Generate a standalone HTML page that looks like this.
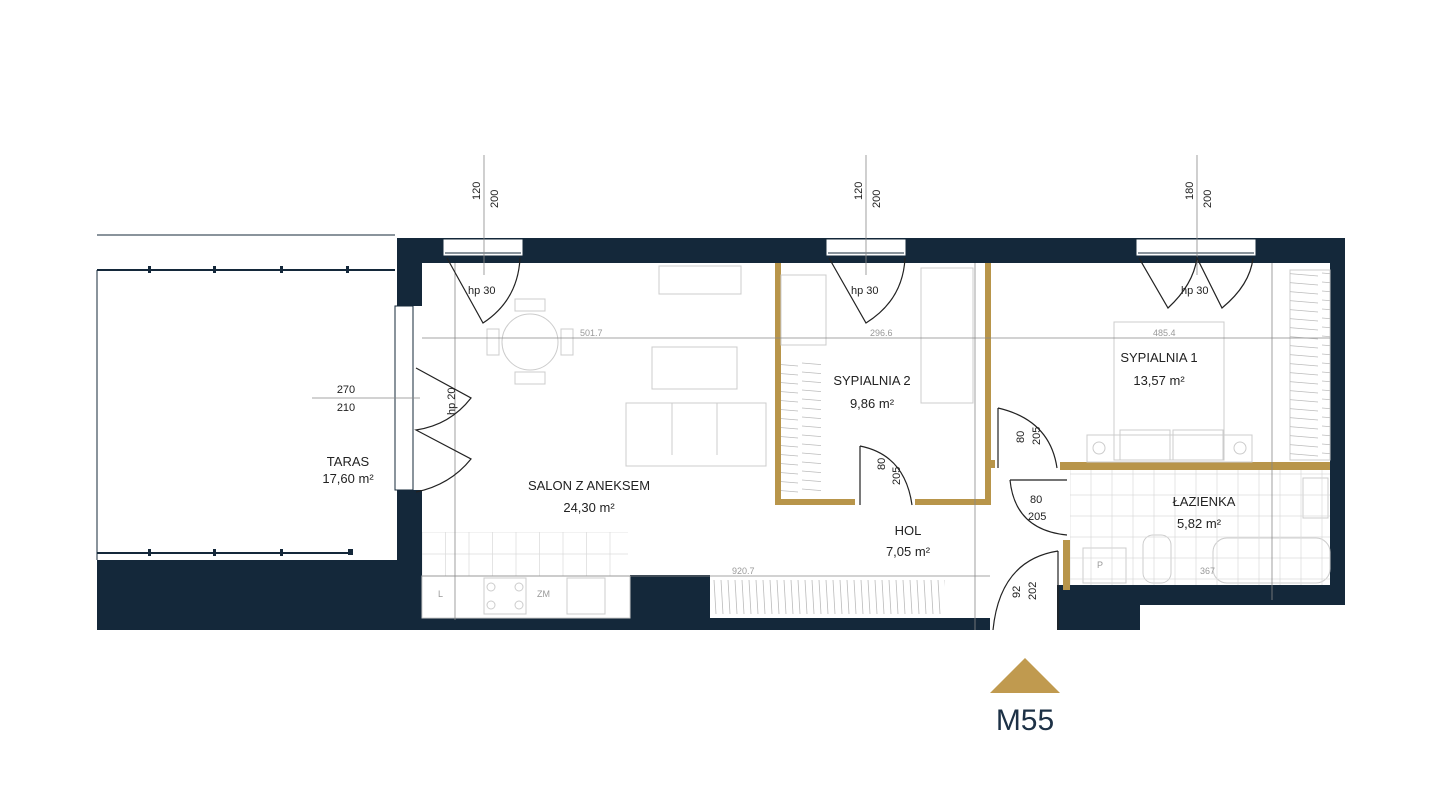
<!DOCTYPE html>
<html><head><meta charset="utf-8"><style>
html,body{margin:0;padding:0;background:#fff;}
svg{display:block;font-family:"Liberation Sans",sans-serif;}
</style></head><body>
<svg width="1441" height="799" viewBox="0 0 1441 799" xmlns="http://www.w3.org/2000/svg">
<defs>
<pattern id="tile" x="422" y="532" width="23.5" height="22" patternUnits="userSpaceOnUse">
<rect width="23.5" height="22" fill="none" stroke="#ddd" stroke-width="0.8"/></pattern>
<pattern id="tile2" x="1070" y="474" width="21" height="21" patternUnits="userSpaceOnUse">
<rect width="21" height="21" fill="none" stroke="#ddd" stroke-width="0.8"/></pattern>
<pattern id="ward" x="712" y="578" width="7" height="38" patternUnits="userSpaceOnUse">
<line x1="2" y1="2" x2="4" y2="36" stroke="#bbb" stroke-width="0.8"/></pattern>
<pattern id="wardh" x="0" y="0" width="40" height="9" patternUnits="userSpaceOnUse">
<line x1="2" y1="3" x2="38" y2="6" stroke="#bbb" stroke-width="0.8"/></pattern>
</defs>
<g fill="#14283a">
<rect x="397" y="238" width="948" height="25"/>
<rect x="397" y="238" width="25" height="68"/>
<rect x="397" y="490" width="25" height="140"/>
<rect x="97" y="560" width="300" height="70"/>
<rect x="422" y="618" width="568" height="12"/>
<rect x="630" y="575" width="80" height="45"/>
<rect x="1057" y="585" width="288" height="20"/>
<rect x="1057" y="585" width="83" height="45"/>
<rect x="1330" y="238" width="15" height="365"/>
</g>
<g fill="#fff" stroke="#14283a" stroke-width="1">
<rect x="443" y="239" width="80" height="17"/>
<rect x="826" y="239" width="80" height="17"/>
<rect x="1136" y="239" width="120" height="17"/>
<rect x="395" y="306" width="18" height="184"/>
</g>
<g stroke="#14283a" stroke-width="1">
<line x1="445" y1="253" x2="521" y2="253"/><line x1="828" y1="253" x2="904" y2="253"/><line x1="1138" y1="253" x2="1254" y2="253"/>
</g>
<g stroke="#14283a" fill="none">
<line x1="97" y1="235" x2="395" y2="235"/>
<line x1="97" y1="270" x2="395" y2="270" stroke-width="2"/>
<line x1="97" y1="553" x2="350" y2="553" stroke-width="2"/>
<line x1="97" y1="270" x2="97" y2="560"/>
</g>
<g fill="#14283a"><rect x="148" y="266" width="3" height="7"/><rect x="213" y="266" width="3" height="7"/><rect x="280" y="266" width="3" height="7"/><rect x="346" y="266" width="3" height="7"/>
<rect x="148" y="549" width="3" height="7"/><rect x="213" y="549" width="3" height="7"/><rect x="280" y="549" width="3" height="7"/><rect x="348" y="549" width="5" height="6"/></g>
<g fill="#b8954a">
<rect x="775" y="263" width="6" height="242"/>
<rect x="775" y="499" width="80" height="6"/>
<rect x="915" y="499" width="75" height="6"/>
<rect x="985" y="263" width="6" height="242"/>
<rect x="990" y="460" width="5" height="8"/>
<rect x="1060" y="462" width="270" height="8"/>
<rect x="1063" y="540" width="7" height="50"/>
</g>
<rect x="422" y="532" width="206" height="44" fill="url(#tile)"/>
<g stroke="#ccc" fill="none" stroke-width="1">
<rect x="422" y="576" width="208" height="42"/>
<rect x="484" y="578" width="42" height="36"/>
<rect x="567" y="578" width="38" height="36"/>
<circle cx="491" cy="587" r="4"/><circle cx="519" cy="587" r="4"/><circle cx="491" cy="605" r="4"/><circle cx="519" cy="605" r="4"/>
<rect x="659" y="266" width="82" height="28"/>
<circle cx="530" cy="342" r="28"/>
<rect x="515" y="299" width="30" height="12"/><rect x="515" y="372" width="30" height="12"/>
<rect x="487" y="329" width="12" height="26"/><rect x="561" y="329" width="12" height="26"/>
<rect x="652" y="347" width="85" height="42"/>
<rect x="626" y="403" width="140" height="63"/>
<line x1="672" y1="403" x2="672" y2="455"/><line x1="717" y1="403" x2="717" y2="455"/>
<rect x="781" y="275" width="45" height="70"/>
<rect x="921" y="268" width="52" height="135"/>
<rect x="1114" y="322" width="110" height="138"/>
<rect x="1087" y="435" width="165" height="27"/>
<rect x="1120" y="430" width="50" height="30"/><rect x="1173" y="430" width="50" height="30"/>
<circle cx="1099" cy="448" r="6"/><circle cx="1240" cy="448" r="6"/>
<rect x="1290" y="270" width="40" height="190"/>
<rect x="1143" y="535" width="28" height="48" rx="10"/>
<rect x="1083" y="548" width="43" height="35"/>
<rect x="1213" y="538" width="117" height="45" rx="14"/>
<rect x="1303" y="478" width="25" height="40"/>
</g>
<rect x="781" y="360" width="40" height="135" fill="url(#wardh)"/>
<rect x="712" y="578" width="233" height="38" fill="url(#ward)"/>
<rect x="1290" y="270" width="40" height="190" fill="url(#wardh)"/>
<rect x="1070" y="470" width="260" height="115" fill="url(#tile2)"/>
<g stroke="#888" stroke-width="0.8">
<line x1="422" y1="338" x2="1330" y2="338"/>
<line x1="422" y1="576" x2="990" y2="576"/>
<line x1="455" y1="263" x2="455" y2="620"/>
<line x1="975" y1="263" x2="975" y2="630"/>
<line x1="1272" y1="263" x2="1272" y2="600"/>
<line x1="484" y1="155" x2="484" y2="275"/>
<line x1="866" y1="155" x2="866" y2="275"/>
<line x1="1197" y1="155" x2="1197" y2="275"/>
<line x1="312" y1="398" x2="420" y2="398"/>
</g>
<g stroke="#222" fill="none" stroke-width="1.2">
<path d="M447 258 L483 323 Q518 300 520 258"/>
<path d="M829 258 L866 323 Q903 300 905 258"/>
<path d="M1139 258 L1168 308 Q1193 285 1197 258 L1222 308 Q1250 285 1253 258"/>
<path d="M416 368 L471 398 Q450 425 416 430 L471 459 Q450 485 416 492"/>
<path d="M860 446 L860 505 M860 446 Q905 455 912 505"/>
<path d="M998 408 L998 468 M998 408 Q1050 420 1057 468"/>
<path d="M1010 480 L1067 480 M1010 480 Q1015 530 1067 535"/>
<path d="M1058 551 L1058 630 M1058 551 Q1000 560 993 630"/>
</g>
<g fill="#222" font-size="13" text-anchor="middle">
<text x="348" y="466">TARAS</text><text x="348" y="483">17,60 m²</text>
<text x="589" y="490">SALON Z ANEKSEM</text><text x="589" y="512">24,30 m²</text>
<text x="872" y="385">SYPIALNIA 2</text><text x="872" y="408">9,86 m²</text>
<text x="908" y="535">HOL</text><text x="908" y="556">7,05 m²</text>
<text x="1159" y="362">SYPIALNIA 1</text><text x="1159" y="385">13,57 m²</text>
<text x="1204" y="506">ŁAZIENKA</text><text x="1199" y="528">5,82 m²</text>
</g>
<g fill="#222" font-size="11">
<text x="468" y="294">hp 30</text><text x="851" y="294">hp 30</text><text x="1181" y="294">hp 30</text>
<text x="346" y="393" text-anchor="middle">270</text><text x="346" y="411" text-anchor="middle">210</text>
<text transform="translate(480,200) rotate(-90)">120</text><text transform="translate(498,208) rotate(-90)">200</text>
<text transform="translate(862,200) rotate(-90)">120</text><text transform="translate(880,208) rotate(-90)">200</text>
<text transform="translate(1193,200) rotate(-90)">180</text><text transform="translate(1211,208) rotate(-90)">200</text>
<text transform="translate(885,470) rotate(-90)">80</text><text transform="translate(900,485) rotate(-90)">205</text>
<text transform="translate(1024,443) rotate(-90)">80</text><text transform="translate(1040,445) rotate(-90)">205</text>
<text x="1030" y="503">80</text><text x="1028" y="520">205</text>
<text transform="translate(1020,598) rotate(-90)">92</text><text transform="translate(1036,600) rotate(-90)">202</text>
<text transform="translate(455,415) rotate(-90)">hp 20</text>
</g>
<g fill="#999" font-size="9">
<text x="580" y="336">501.7</text><text x="870" y="336">296.6</text><text x="1153" y="336">485.4</text>
<text x="732" y="574">920.7</text><text x="1200" y="574">367</text>
<text x="537" y="597">ZM</text><text x="438" y="597">L</text>
<text x="1097" y="568">P</text>
</g>
<polygon points="1025,658 990,693 1060,693" fill="#c09a4f"/>
<text x="1025" y="730" font-size="30" fill="#1d3146" text-anchor="middle">M55</text>
</svg>
</body></html>
